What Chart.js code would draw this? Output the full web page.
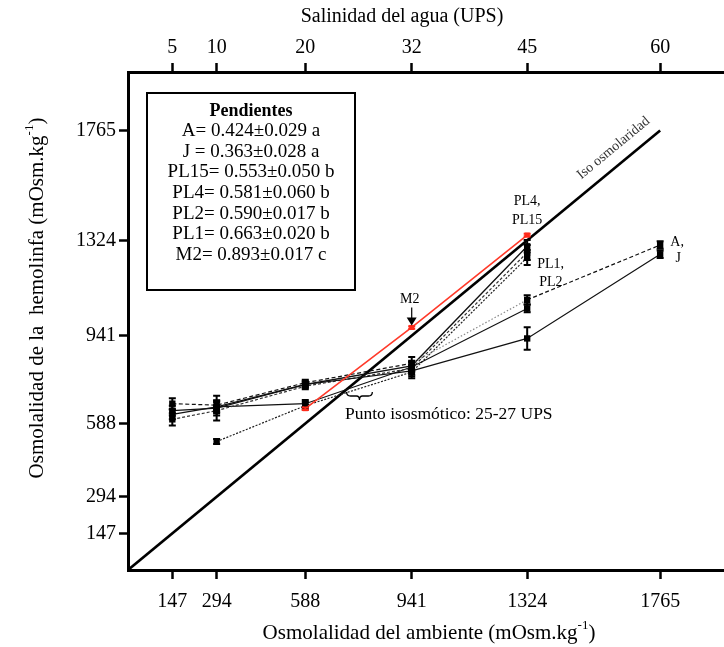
<!DOCTYPE html>
<html>
<head>
<meta charset="utf-8">
<script src="https://cdn.jsdelivr.net/npm/chart.js@4.4.1/dist/chart.umd.min.js"></script>
<style>
  html, body { margin: 0; padding: 0; background: #fff; overflow: hidden; }
  #wrap { width: 760px; height: 647px; }
</style>
</head>
<body>
<div id="wrap"><canvas id="c" width="760" height="647"></canvas></div>
<script>
// Environmental osmolality (mOsm/kg) and matching water salinity (UPS)
const envOsm = [147, 294, 588, 941, 1324, 1765];
const salinity = ['5', '10', '20', '32', '45', '60'];
const hemoTicks = [147, 294, 588, 941, 1324, 1765];
const isoRangeUPS = [25, 27];
const upsToOsm = 29.4;

// Hemolymph osmolality per stage (mean and SD); null = not tested
const adultMean = [668, 662, 752, 830, 1085, 1305];
const adultErr  = [22, 20, 12, 25, 18, 15];
const juvMean   = [640, 650, 745, 800, 930, 1268];
const juvErr    = [20, 50, 12, 22, 45, 15];
const pl15Mean  = [605, 640, 738, 810, 1275, null];
const pl15Err   = [25, 20, 12, 25, 30, null];
const pl4Mean   = [625, 655, 745, 820, 1300, null];
const pl4Err    = [20, 25, 12, 20, 25, null];
const pl2Mean   = [null, 655, 668, 815, 1050, null];
const pl2Err    = [null, 20, 15, 20, 15, null];
const pl1Mean   = [null, 516, 660, 795, 1255, null];
const pl1Err    = [null, 10, 15, 25, 30, null];
const m2Mean    = [null, null, 648, 974, 1345, null];
const m2Err     = [null, null, 5, 5, 5, null];
const isoX      = [0, 1765];

// Regression slopes shown in the inset
const slopeStages = ['A', 'J', 'PL15', 'PL4', 'PL2', 'PL1', 'M2'];
const slopeValues = ['0.424', '0.363', '0.553', '0.581', '0.590', '0.663', '0.893'];
const slopeErrors = ['0.029', '0.028', '0.050', '0.060', '0.017', '0.020', '0.017'];
const slopeGroups = ['a', 'a', 'b', 'b', 'b', 'b', 'c'];

const SERIF = '"Liberation Serif", "Times New Roman", serif';

function pts(mean) {
  return envOsm.map((x, i) => mean[i] == null ? null : { x: x, y: mean[i] }).filter(Boolean);
}
function errs(mean, err) {
  return envOsm.map((x, i) => mean[i] == null ? null : err[i]).filter(v => v !== null);
}

function stage(label, mean, err, style) {
  return Object.assign({
    label: label,
    data: pts(mean),
    errors: errs(mean, err),
    borderColor: '#111',
    borderWidth: 1.2,
    pointStyle: 'rect',
    pointRadius: 4.5,
    pointBackgroundColor: '#000',
    pointBorderColor: '#000',
    pointBorderWidth: 0,
    fill: false,
    tension: 0,
    order: 2
  }, style || {});
}

const datasets = [
  {
    label: 'Iso osmolaridad',
    data: isoX.map(v => ({ x: v, y: v })),
    borderColor: '#000', borderWidth: 2.6, pointRadius: 0, fill: false, order: 3
  },
  stage('A', adultMean, adultErr, {
    borderDash: [4, 2.5],
    segment: {
      borderDash: ctx => ctx.p0DataIndex === 3 ? [1.5, 2] : [4, 2.5],
      borderColor: ctx => ctx.p0DataIndex === 3 ? '#8a8a8a' : '#111'
    }
  }),
  stage('J', juvMean, juvErr, {}),
  stage('PL15', pl15Mean, pl15Err, { borderDash: [3, 2], borderColor: '#333' }),
  stage('PL4', pl4Mean, pl4Err, { borderWidth: 1.3 }),
  stage('PL2', pl2Mean, pl2Err, { borderWidth: 1.1 }),
  stage('PL1', pl1Mean, pl1Err, { borderDash: [2, 1.5], borderColor: '#222' }),
  stage('M2', m2Mean, m2Err, {
    borderColor: '#ff3a2a', borderWidth: 1.6,
    pointBackgroundColor: '#ff2a1a', pointRadius: 3.6, order: 1, errorColor: '#ff2a1a'
  })
];

// Vertical SD bars with caps, placed through the scales
const errorBars = {
  id: 'errorBars',
  afterDatasetsDraw(chart) {
    const ctx = chart.ctx;
    const ys = chart.scales.y;
    chart.data.datasets.forEach((ds, di) => {
      if (!ds.errors) return;
      const meta = chart.getDatasetMeta(di);
      ctx.save();
      ctx.strokeStyle = ds.errorColor || '#000';
      ctx.lineWidth = 2;
      meta.data.forEach((el, i) => {
        const e = ds.errors[i];
        if (!e) return;
        const v = ds.data[i].y;
        const x = el.x;
        const yTop = ys.getPixelForValue(v + e);
        const yBot = ys.getPixelForValue(v - e);
        ctx.beginPath();
        ctx.moveTo(x, yTop); ctx.lineTo(x, yBot);
        ctx.moveTo(x - 3.5, yTop); ctx.lineTo(x + 3.5, yTop);
        ctx.moveTo(x - 3.5, yBot); ctx.lineTo(x + 3.5, yBot);
        ctx.stroke();
      });
      ctx.restore();
    });
  }
};

function drawSup(ctx, base, sup, tail, x, y, size) {
  // text with a superscript, centred on x
  ctx.font = size + 'px ' + SERIF;
  const w1 = ctx.measureText(base).width;
  const w3 = ctx.measureText(tail).width;
  ctx.font = Math.round(size * 0.62) + 'px ' + SERIF;
  const w2 = ctx.measureText(sup).width;
  let sx = x - (w1 + w2 + w3) / 2;
  ctx.textAlign = 'left';
  ctx.textBaseline = 'middle';
  ctx.font = size + 'px ' + SERIF;
  ctx.fillText(base, sx, y);
  ctx.font = Math.round(size * 0.62) + 'px ' + SERIF;
  ctx.fillText(sup, sx + w1, y - size * 0.33);
  ctx.font = size + 'px ' + SERIF;
  ctx.fillText(tail, sx + w1 + w2, y);
}

const annotations = {
  id: 'annotations',
  afterDraw(chart) {
    const ctx = chart.ctx;
    const xs = chart.scales.x;
    const ys = chart.scales.y;
    const a = chart.chartArea;
    const X = v => xs.getPixelForValue(v);
    const Y = v => ys.getPixelForValue(v);
    ctx.save();
    ctx.fillStyle = '#000';

    // axis titles
    ctx.textAlign = 'center';
    ctx.textBaseline = 'middle';
    ctx.font = '20px ' + SERIF;
    ctx.fillText('Salinidad del agua (UPS)', 402, 17);
    drawSup(ctx, 'Osmolalidad del ambiente (mOsm.kg', '-1', ')', 429, 633, 21);
    ctx.save();
    ctx.translate(37, 298);
    ctx.rotate(-Math.PI / 2);
    drawSup(ctx, 'Osmolalidad de la  hemolinfa (mOsm.kg', '-1', ')', 0, 0, 21);
    ctx.restore();

    // slope inset
    const bx = a.left + 19, by = a.top + 21, bw = 208, bh = 197;
    ctx.lineWidth = 2;
    ctx.strokeStyle = '#000';
    ctx.strokeRect(bx, by, bw, bh);
    const cx = bx + bw / 2;
    ctx.textAlign = 'center';
    ctx.textBaseline = 'middle';
    ctx.font = 'bold 18px ' + SERIF;
    ctx.fillText('Pendientes', cx, by + 18);
    ctx.font = '19px ' + SERIF;
    slopeStages.forEach((s, i) => {
      const eq = s === 'J' ? ' = ' : '= ';
      ctx.fillText(s + eq + slopeValues[i] + '\u00B1' + slopeErrors[i] + ' ' + slopeGroups[i], cx, by + 38 + i * 20.7);
    });

    // iso-osmotic line label
    const ang = Math.atan2(Y(1765) - Y(0), X(1765) - X(0));
    ctx.save();
    ctx.translate(X(1610), Y(1610) - 21);
    ctx.rotate(ang);
    ctx.font = '14px ' + SERIF;
    ctx.fillStyle = '#333';
    ctx.fillText('Iso osmolaridad', 0, 0);
    ctx.restore();

    // stage labels
    ctx.font = '14px ' + SERIF;
    ctx.textAlign = 'center';
    ctx.fillText('PL4,', X(1324), Y(1345) - 34);
    ctx.fillText('PL15', X(1324), Y(1345) - 15);
    ctx.textAlign = 'left';
    ctx.fillText('PL1,', X(1324) + 10, Y(1229));
    ctx.fillText('PL2', X(1324) + 12, Y(1157));
    ctx.textAlign = 'center';
    ctx.fillText('A,', X(1765) + 17, Y(1314));
    ctx.fillText('J', X(1765) + 18, Y(1253));

    // M2 pointer
    const mx = X(941), my = Y(974);
    ctx.fillText('M2', mx - 2, my - 28);
    ctx.lineWidth = 1.2;
    ctx.beginPath();
    ctx.moveTo(mx, my - 20); ctx.lineTo(mx, my - 9);
    ctx.stroke();
    ctx.beginPath();
    ctx.moveTo(mx - 5, my - 10); ctx.lineTo(mx + 5, my - 10); ctx.lineTo(mx, my - 2);
    ctx.closePath();
    ctx.fill();

    // isosmotic point brace and note
    const x0 = X(isoRangeUPS[0] * upsToOsm) - 3, x1 = X(isoRangeUPS[1] * upsToOsm) + 5;
    const xm = (x0 + x1) / 2, yt = 392;
    ctx.lineWidth = 1.3;
    ctx.beginPath();
    ctx.moveTo(x0, yt);
    ctx.quadraticCurveTo(x0, yt + 4, x0 + 4, yt + 4);
    ctx.lineTo(xm - 3, yt + 4);
    ctx.quadraticCurveTo(xm, yt + 4, xm, yt + 8);
    ctx.quadraticCurveTo(xm, yt + 4, xm + 3, yt + 4);
    ctx.lineTo(x1 - 4, yt + 4);
    ctx.quadraticCurveTo(x1, yt + 4, x1, yt);
    ctx.stroke();
    ctx.font = '17.5px ' + SERIF;
    ctx.textAlign = 'left';
    ctx.fillText('Punto isosm\u00F3tico: 25-27 UPS', 345, 414);
    ctx.restore();
  }
};

const tickFont = { family: SERIF, size: 20 };
const gridOpts = { drawOnChartArea: false, drawTicks: true, tickLength: 9, tickWidth: 2.5, tickColor: '#000' };
const borderOpts = { display: true, color: '#000', width: 3 };
const plain = v => String(v);

new Chart(document.getElementById('c'), {
  type: 'line',
  data: { datasets: datasets },
  options: {
    responsive: false,
    animation: false,
    devicePixelRatio: 1,
    layout: { padding: { left: 0, right: 29, top: 0, bottom: 0 } },
    plugins: { legend: { display: false }, tooltip: { enabled: false } },
    scales: {
      x: {
        type: 'linear', position: 'bottom', min: 0, max: 2000,
        afterBuildTicks: s => { s.ticks = envOsm.map(v => ({ value: v })); },
        afterFit: s => { s.height = 77; },
        grid: gridOpts, border: borderOpts,
        ticks: { color: '#000', font: tickFont, padding: 11, maxRotation: 0, autoSkip: false, callback: plain }
      },
      x2: {
        type: 'linear', position: 'top', min: 0, max: 2000,
        afterBuildTicks: s => { s.ticks = envOsm.map(v => ({ value: v })); },
        afterFit: s => { s.height = 72; },
        grid: gridOpts, border: borderOpts,
        ticks: {
          color: '#000', font: tickFont, padding: 3, maxRotation: 0, autoSkip: false,
          callback: v => salinity[envOsm.indexOf(v)]
        }
      },
      y: {
        type: 'linear', position: 'left', min: 0, max: 2000,
        afterBuildTicks: s => { s.ticks = hemoTicks.map(v => ({ value: v })); },
        afterFit: s => { s.width = 128; },
        grid: gridOpts, border: borderOpts,
        ticks: { color: '#000', font: tickFont, padding: 3, autoSkip: false, callback: plain }
      }
    }
  },
  plugins: [errorBars, annotations]
});
</script>
</body>
</html>
